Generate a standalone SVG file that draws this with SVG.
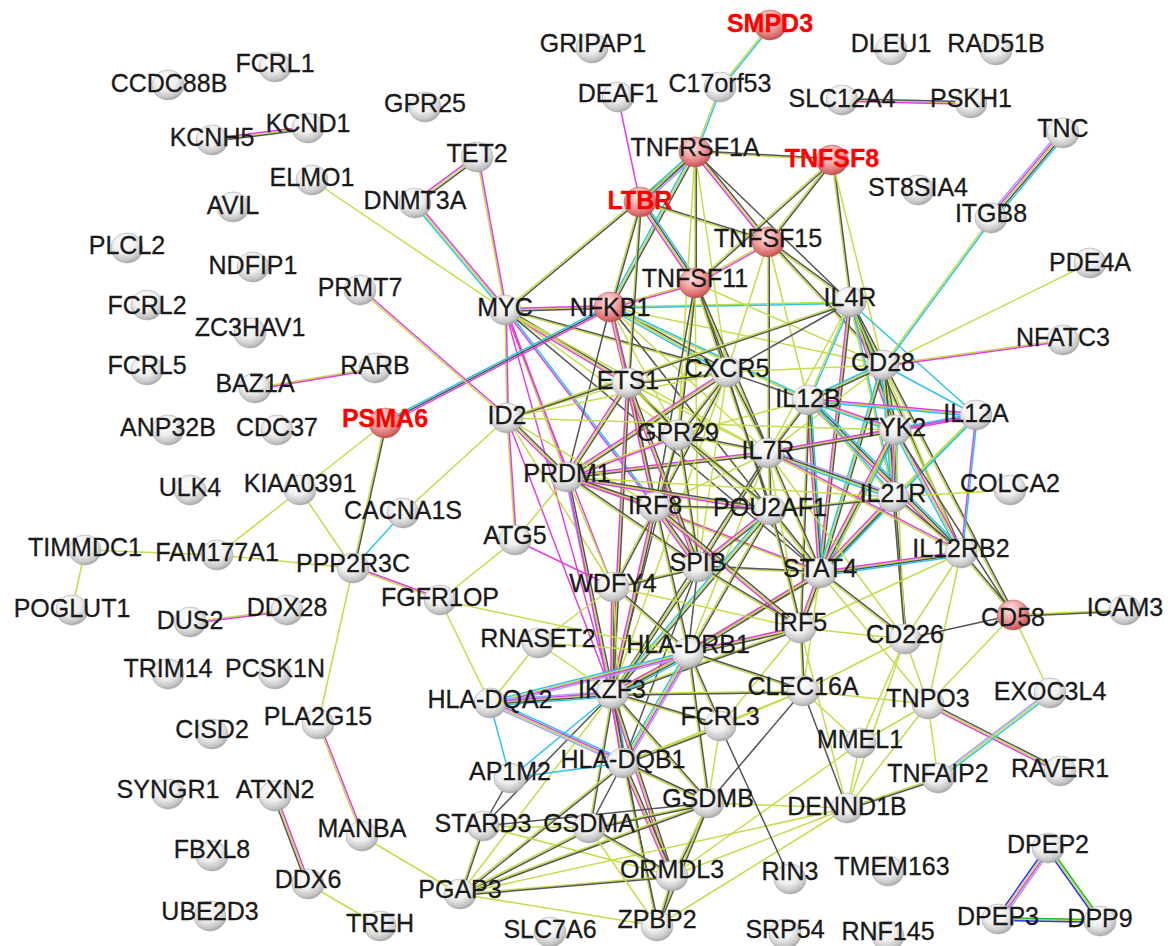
<svg xmlns="http://www.w3.org/2000/svg" xmlns:xlink="http://www.w3.org/1999/xlink" width="1168" height="946" viewBox="0 0 1168 946">
<style>
path{fill:none;stroke-width:1.5}
.y{stroke:#c5dc4a}.k{stroke:#555}.m{stroke:#e040e0}.c{stroke:#2ec4ea}.p{stroke:#a0a0ff}.b{stroke:#3030ff}.g{stroke:#22bb22}
.p1{transform:translate(1.3px,-1.3px)}.p2{transform:translate(-1.3px,1.3px)}.p3{transform:translate(2.6px,-2.6px)}.p4{transform:translate(-2.6px,2.6px)}
.q1{transform:translate(1.3px,1.3px)}.q2{transform:translate(-1.3px,-1.3px)}.q3{transform:translate(2.6px,2.6px)}.q4{transform:translate(-2.6px,-2.6px)}
text{font-family:"Liberation Sans",Arial,Helvetica,sans-serif;font-size:25px;text-anchor:middle;fill:#1a1a1a;stroke:#1a1a1a;stroke-width:0.3}
text.r{fill:#f00;stroke:#f00;font-weight:bold}
</style>
<defs>
<radialGradient id="gg" cx="0.42" cy="0.32" r="0.7">
<stop offset="0" stop-color="#ffffff"/><stop offset="0.5" stop-color="#eeeeee"/><stop offset="0.85" stop-color="#c4c4c4"/><stop offset="1" stop-color="#a0a0a0"/>
</radialGradient>
<radialGradient id="gr" cx="0.42" cy="0.32" r="0.7">
<stop offset="0" stop-color="#ffe4e4"/><stop offset="0.5" stop-color="#f0a0a0"/><stop offset="0.85" stop-color="#d86868"/><stop offset="1" stop-color="#b84848"/>
</radialGradient>
<ellipse id="sg" cx="0" cy="0" rx="16" ry="15" fill="url(#gg)" stroke="#a8a8a8" stroke-width="0.6"/>
<ellipse id="sr" cx="0" cy="0" rx="16" ry="15" fill="url(#gr)" stroke="#b06060" stroke-width="0.6"/>
</defs>
<rect width="1168" height="946" fill="#fff"/>
<g id="connectors">
<path class="y" d="M505 310L610 307"/><path class="k q1" d="M505 310L610 307"/><path class="m q2" d="M505 310L610 307"/>
<path class="y" d="M505 310L695 152"/><path class="k q1" d="M505 310L695 152"/>
<path class="y" d="M505 310L415 203"/><path class="m p1" d="M505 310L415 203"/><path class="c p2" d="M505 310L415 203"/>
<path class="y" d="M505 310L477 157"/><path class="m p1" d="M505 310L477 157"/>
<path class="y" d="M415 203L477 157"/><path class="k q1" d="M415 203L477 157"/><path class="m q2" d="M415 203L477 157"/>
<path class="y" d="M505 310L312 180"/>
<path class="y" d="M505 310L507 418"/><path class="m p1" d="M505 310L507 418"/>
<path class="y" d="M505 310L628 383"/><path class="k p1" d="M505 310L628 383"/><path class="m p2" d="M505 310L628 383"/>
<path class="y" d="M505 310L567 477"/><path class="m p1" d="M505 310L567 477"/>
<path class="m" d="M505 310L655 507"/><path class="c p1" d="M505 310L655 507"/>
<path class="y" d="M505 310L678 435"/>
<path class="y" d="M505 310L727 372"/><path class="k p1" d="M505 310L727 372"/>
<path class="m" d="M505 310L612 694"/>
<path class="m" d="M505 310L613 587"/>
<path class="k" d="M505 310L820 573"/>
<path class="y" d="M505 310L768 453"/>
<path class="y" d="M610 307L695 152"/><path class="k q1" d="M610 307L695 152"/><path class="c q2" d="M610 307L695 152"/>
<path class="y" d="M610 307L640 202"/><path class="k q1" d="M610 307L640 202"/>
<path class="y" d="M610 307L695 283"/><path class="m q1" d="M610 307L695 283"/>
<path class="k" d="M610 307L385 423"/><path class="m q1" d="M610 307L385 423"/><path class="c q2" d="M610 307L385 423"/>
<path class="y" d="M610 307L628 383"/><path class="k p1" d="M610 307L628 383"/><path class="m p2" d="M610 307L628 383"/>
<path class="y" d="M610 307L727 372"/><path class="k p1" d="M610 307L727 372"/><path class="c p2" d="M610 307L727 372"/>
<path class="y" d="M610 307L655 507"/><path class="m p1" d="M610 307L655 507"/>
<path class="k" d="M610 307L567 477"/>
<path class="y" d="M610 307L850 302"/><path class="c q1" d="M610 307L850 302"/>
<path class="y" d="M610 307L808 400"/><path class="c p1" d="M610 307L808 400"/>
<path class="y" d="M610 307L883 365"/>
<path class="y" d="M610 307L820 573"/>
<path class="y" d="M610 307L768 453"/>
<path class="k" d="M610 307L770 510"/>
<path class="y" d="M610 307L678 435"/>
<path class="y" d="M640 202L695 152"/><path class="k q1" d="M640 202L695 152"/><path class="c q2" d="M640 202L695 152"/><path class="p q3" d="M640 202L695 152"/>
<path class="y" d="M640 202L768 242"/><path class="k p1" d="M640 202L768 242"/>
<path class="y" d="M640 202L695 283"/><path class="k p1" d="M640 202L695 283"/><path class="m p2" d="M640 202L695 283"/><path class="c p3" d="M640 202L695 283"/>
<path class="m" d="M640 202L618 97"/>
<path class="y" d="M640 202L628 383"/><path class="k q1" d="M640 202L628 383"/>
<path class="y" d="M695 152L832 160"/><path class="k p1" d="M695 152L832 160"/>
<path class="y" d="M695 152L768 242"/><path class="k p1" d="M695 152L768 242"/><path class="m p2" d="M695 152L768 242"/>
<path class="y" d="M695 152L695 283"/><path class="k p1" d="M695 152L695 283"/>
<path class="k" d="M695 152L850 302"/>
<path class="y" d="M695 152L720 87"/><path class="c q1" d="M695 152L720 87"/>
<path class="y" d="M720 87L770 25"/><path class="c q1" d="M720 87L770 25"/>
<path class="y" d="M695 152L727 372"/>
<path class="y" d="M695 152L678 435"/>
<path class="y" d="M832 160L768 242"/><path class="k q1" d="M832 160L768 242"/>
<path class="y" d="M832 160L850 302"/><path class="k p1" d="M832 160L850 302"/>
<path class="y" d="M832 160L695 283"/><path class="k q1" d="M832 160L695 283"/>
<path class="y" d="M832 160L883 365"/>
<path class="y" d="M768 242L695 283"/><path class="m q1" d="M768 242L695 283"/>
<path class="y" d="M768 242L850 302"/><path class="k p1" d="M768 242L850 302"/>
<path class="y" d="M768 242L727 372"/>
<path class="y" d="M768 242L768 453"/><path class="k p1" d="M768 242L768 453"/>
<path class="y" d="M768 242L808 400"/>
<path class="y" d="M768 242L883 365"/><path class="k p1" d="M768 242L883 365"/>
<path class="y" d="M695 283L727 372"/><path class="k p1" d="M695 283L727 372"/>
<path class="y" d="M695 283L678 435"/><path class="k q1" d="M695 283L678 435"/>
<path class="y" d="M695 283L768 453"/><path class="k p1" d="M695 283L768 453"/>
<path class="y" d="M695 283L883 365"/>
<path class="k" d="M695 283L655 507"/>
<path class="y" d="M695 283L698 567"/>
<path class="y" d="M695 283L770 510"/><path class="k p1" d="M695 283L770 510"/>
<path class="y" d="M850 302L883 365"/><path class="k p1" d="M850 302L883 365"/><path class="c p2" d="M850 302L883 365"/>
<path class="y" d="M850 302L808 400"/><path class="c q1" d="M850 302L808 400"/>
<path class="y" d="M850 302L895 430"/><path class="k p1" d="M850 302L895 430"/><path class="m p2" d="M850 302L895 430"/><path class="c p3" d="M850 302L895 430"/>
<path class="y" d="M850 302L820 573"/><path class="k q1" d="M850 302L820 573"/><path class="m q2" d="M850 302L820 573"/>
<path class="y" d="M850 302L893 497"/><path class="c p1" d="M850 302L893 497"/>
<path class="y" d="M850 302L768 453"/>
<path class="k" d="M850 302L727 372"/>
<path class="y" d="M850 302L961 553"/><path class="k p1" d="M850 302L961 553"/>
<path class="c" d="M850 302L976 415"/>
<path class="y" d="M883 365L991 218"/><path class="c q1" d="M883 365L991 218"/>
<path class="y" d="M883 365L1090 263"/>
<path class="y" d="M883 365L1063 340"/><path class="m q1" d="M883 365L1063 340"/>
<path class="c" d="M883 365L976 415"/>
<path class="y" d="M883 365L895 430"/><path class="k p1" d="M883 365L895 430"/>
<path class="y" d="M883 365L893 497"/><path class="k p1" d="M883 365L893 497"/><path class="c p2" d="M883 365L893 497"/>
<path class="y" d="M883 365L820 573"/><path class="k q1" d="M883 365L820 573"/><path class="c q2" d="M883 365L820 573"/>
<path class="y" d="M883 365L768 453"/>
<path class="y" d="M883 365L808 400"/><path class="k q1" d="M883 365L808 400"/><path class="c q2" d="M883 365L808 400"/>
<path class="y" d="M883 365L905 639"/><path class="k p1" d="M883 365L905 639"/>
<path class="y" d="M883 365L1013 615"/><path class="k p1" d="M883 365L1013 615"/>
<path class="y" d="M883 365L961 553"/>
<path class="y" d="M883 365L727 372"/>
<path class="y" d="M976 415L808 400"/><path class="m p1" d="M976 415L808 400"/><path class="c p2" d="M976 415L808 400"/>
<path class="y" d="M976 415L895 430"/><path class="m q1" d="M976 415L895 430"/><path class="c q2" d="M976 415L895 430"/>
<path class="m" d="M976 415L961 553"/><path class="c q1" d="M976 415L961 553"/>
<path class="y" d="M976 415L893 497"/><path class="c q1" d="M976 415L893 497"/>
<path class="y" d="M976 415L820 573"/><path class="c q1" d="M976 415L820 573"/>
<path class="m" d="M976 415L768 453"/>
<path class="y" d="M808 400L895 430"/><path class="m p1" d="M808 400L895 430"/><path class="c p2" d="M808 400L895 430"/>
<path class="y" d="M808 400L961 553"/><path class="k p1" d="M808 400L961 553"/><path class="m p2" d="M808 400L961 553"/><path class="c p3" d="M808 400L961 553"/>
<path class="y" d="M808 400L820 573"/><path class="k p1" d="M808 400L820 573"/><path class="m p2" d="M808 400L820 573"/><path class="c p3" d="M808 400L820 573"/>
<path class="y" d="M808 400L768 453"/><path class="k q1" d="M808 400L768 453"/>
<path class="y" d="M808 400L893 497"/><path class="c p1" d="M808 400L893 497"/>
<path class="k" d="M808 400L727 372"/>
<path class="y" d="M808 400L678 435"/>
<path class="y" d="M808 400L800 628"/><path class="k q1" d="M808 400L800 628"/>
<path class="y" d="M895 430L820 573"/><path class="k q1" d="M895 430L820 573"/><path class="m q2" d="M895 430L820 573"/><path class="c q3" d="M895 430L820 573"/>
<path class="y" d="M895 430L893 497"/><path class="k q1" d="M895 430L893 497"/><path class="m q2" d="M895 430L893 497"/><path class="c q3" d="M895 430L893 497"/>
<path class="y" d="M895 430L961 553"/><path class="m p1" d="M895 430L961 553"/><path class="c p2" d="M895 430L961 553"/>
<path class="y" d="M895 430L768 453"/><path class="k q1" d="M895 430L768 453"/><path class="m q2" d="M895 430L768 453"/>
<path class="k" d="M895 430L1013 615"/>
<path class="y" d="M895 430L800 628"/>
<path class="y" d="M895 430L905 639"/>
<path class="y" d="M893 497L768 453"/><path class="k p1" d="M893 497L768 453"/><path class="c p2" d="M893 497L768 453"/><path class="p p3" d="M893 497L768 453"/>
<path class="y" d="M893 497L820 573"/><path class="k q1" d="M893 497L820 573"/><path class="m q2" d="M893 497L820 573"/><path class="c q3" d="M893 497L820 573"/>
<path class="y" d="M893 497L961 553"/><path class="k p1" d="M893 497L961 553"/>
<path class="y" d="M893 497L1010 490"/>
<path class="k" d="M893 497L905 639"/>
<path class="y" d="M893 497L770 510"/><path class="k q1" d="M893 497L770 510"/>
<path class="y" d="M961 553L820 573"/><path class="k q1" d="M961 553L820 573"/><path class="m q2" d="M961 553L820 573"/><path class="c q3" d="M961 553L820 573"/>
<path class="y" d="M961 553L1013 615"/><path class="k p1" d="M961 553L1013 615"/>
<path class="y" d="M961 553L768 453"/><path class="m p1" d="M961 553L768 453"/>
<path class="y" d="M961 553L905 639"/>
<path class="y" d="M961 553L928 704"/>
<path class="y" d="M961 553L800 628"/>
<path class="y" d="M820 573L768 453"/><path class="k p1" d="M820 573L768 453"/>
<path class="y" d="M820 573L800 628"/><path class="k q1" d="M820 573L800 628"/><path class="m q2" d="M820 573L800 628"/>
<path class="y" d="M820 573L698 567"/><path class="k p1" d="M820 573L698 567"/>
<path class="y" d="M820 573L770 510"/><path class="k p1" d="M820 573L770 510"/>
<path class="y" d="M820 573L655 507"/>
<path class="y" d="M820 573L612 694"/><path class="k q1" d="M820 573L612 694"/>
<path class="y" d="M820 573L688 653"/><path class="k q1" d="M820 573L688 653"/><path class="m q2" d="M820 573L688 653"/>
<path class="y" d="M820 573L905 639"/><path class="k p1" d="M820 573L905 639"/>
<path class="y" d="M820 573L803 691"/>
<path class="y" d="M820 573L928 704"/>
<path class="k" d="M820 573L628 383"/>
<path class="y" d="M820 573L567 477"/><path class="m p1" d="M820 573L567 477"/>
<path class="y" d="M768 453L727 372"/><path class="k p1" d="M768 453L727 372"/>
<path class="y" d="M768 453L678 435"/><path class="k p1" d="M768 453L678 435"/>
<path class="y" d="M768 453L770 510"/><path class="k p1" d="M768 453L770 510"/>
<path class="y" d="M768 453L655 507"/>
<path class="y" d="M768 453L698 567"/><path class="k q1" d="M768 453L698 567"/>
<path class="y" d="M768 453L628 383"/>
<path class="y" d="M768 453L567 477"/><path class="k q1" d="M768 453L567 477"/><path class="m q2" d="M768 453L567 477"/>
<path class="k" d="M768 453L612 694"/>
<path class="y" d="M768 453L688 653"/>
<path class="y" d="M768 453L800 628"/>
<path class="y" d="M768 453L905 639"/>
<path class="y" d="M727 372L628 383"/><path class="k q1" d="M727 372L628 383"/>
<path class="y" d="M727 372L678 435"/><path class="k q1" d="M727 372L678 435"/>
<path class="k" d="M727 372L770 510"/>
<path class="y" d="M727 372L655 507"/><path class="k q1" d="M727 372L655 507"/>
<path class="y" d="M727 372L698 567"/>
<path class="y" d="M727 372L567 477"/><path class="k q1" d="M727 372L567 477"/><path class="m q2" d="M727 372L567 477"/>
<path class="y" d="M727 372L612 694"/>
<path class="y" d="M628 383L678 435"/><path class="k p1" d="M628 383L678 435"/>
<path class="y" d="M628 383L655 507"/><path class="k p1" d="M628 383L655 507"/><path class="m p2" d="M628 383L655 507"/>
<path class="y" d="M628 383L567 477"/><path class="k q1" d="M628 383L567 477"/><path class="m q2" d="M628 383L567 477"/>
<path class="y" d="M628 383L770 510"/>
<path class="y" d="M628 383L698 567"/><path class="k p1" d="M628 383L698 567"/><path class="m p2" d="M628 383L698 567"/>
<path class="y" d="M628 383L612 694"/><path class="k q1" d="M628 383L612 694"/><path class="m q2" d="M628 383L612 694"/>
<path class="y" d="M628 383L507 418"/>
<path class="y" d="M678 435L655 507"/><path class="k q1" d="M678 435L655 507"/>
<path class="y" d="M678 435L770 510"/><path class="k p1" d="M678 435L770 510"/>
<path class="y" d="M678 435L698 567"/><path class="k p1" d="M678 435L698 567"/>
<path class="y" d="M678 435L567 477"/><path class="m q1" d="M678 435L567 477"/>
<path class="k" d="M678 435L612 694"/>
<path class="y" d="M507 418L567 477"/><path class="k p1" d="M507 418L567 477"/><path class="m p2" d="M507 418L567 477"/>
<path class="y" d="M507 418L655 507"/>
<path class="y" d="M507 418L515 540"/><path class="m p1" d="M507 418L515 540"/>
<path class="y" d="M507 418L403 513"/>
<path class="y" d="M507 418L360 290"/><path class="m p1" d="M507 418L360 290"/>
<path class="m" d="M507 418L612 694"/>
<path class="y" d="M507 418L613 587"/>
<path class="y" d="M507 418L850 302"/><path class="k q1" d="M507 418L850 302"/>
<path class="y" d="M507 418L727 372"/>
<path class="y" d="M507 418L895 430"/>
<path class="y" d="M567 477L655 507"/><path class="k p1" d="M567 477L655 507"/><path class="m p2" d="M567 477L655 507"/>
<path class="y" d="M567 477L770 510"/><path class="k p1" d="M567 477L770 510"/><path class="m p2" d="M567 477L770 510"/>
<path class="y" d="M567 477L698 567"/><path class="k p1" d="M567 477L698 567"/>
<path class="y" d="M567 477L612 694"/><path class="k p1" d="M567 477L612 694"/><path class="p p2" d="M567 477L612 694"/>
<path class="y" d="M567 477L613 587"/>
<path class="y" d="M567 477L515 540"/>
<path class="m" d="M567 477L623 763"/>
<path class="y" d="M567 477L893 497"/>
<path class="y" d="M655 507L770 510"/><path class="k p1" d="M655 507L770 510"/>
<path class="y" d="M655 507L698 567"/><path class="k p1" d="M655 507L698 567"/><path class="m p2" d="M655 507L698 567"/>
<path class="y" d="M655 507L613 587"/><path class="k q1" d="M655 507L613 587"/>
<path class="y" d="M655 507L612 694"/><path class="k q1" d="M655 507L612 694"/><path class="m q2" d="M655 507L612 694"/>
<path class="y" d="M655 507L688 653"/><path class="k p1" d="M655 507L688 653"/>
<path class="y" d="M655 507L800 628"/><path class="k p1" d="M655 507L800 628"/><path class="m p2" d="M655 507L800 628"/>
<path class="y" d="M770 510L698 567"/><path class="k q1" d="M770 510L698 567"/><path class="m q2" d="M770 510L698 567"/>
<path class="y" d="M770 510L612 694"/><path class="k q1" d="M770 510L612 694"/><path class="c q2" d="M770 510L612 694"/>
<path class="y" d="M770 510L688 653"/><path class="k q1" d="M770 510L688 653"/>
<path class="y" d="M770 510L800 628"/><path class="k p1" d="M770 510L800 628"/>
<path class="y" d="M698 567L613 587"/><path class="k q1" d="M698 567L613 587"/>
<path class="y" d="M698 567L612 694"/><path class="k q1" d="M698 567L612 694"/>
<path class="k" d="M698 567L688 653"/>
<path class="y" d="M698 567L800 628"/><path class="k p1" d="M698 567L800 628"/>
<path class="k" d="M698 567L623 763"/>
<path class="y" d="M613 587L612 694"/><path class="k q1" d="M613 587L612 694"/><path class="m q2" d="M613 587L612 694"/>
<path class="y" d="M613 587L688 653"/><path class="k p1" d="M613 587L688 653"/>
<path class="y" d="M613 587L800 628"/>
<path class="y" d="M613 587L623 763"/>
<path class="m" d="M613 587L515 540"/>
<path class="y" d="M613 587L538 643"/>
<path class="y" d="M515 540L440 600"/>
<path class="y" d="M800 628L688 653"/><path class="k q1" d="M800 628L688 653"/><path class="m q2" d="M800 628L688 653"/>
<path class="y" d="M800 628L612 694"/><path class="k q1" d="M800 628L612 694"/>
<path class="y" d="M800 628L803 691"/><path class="k p1" d="M800 628L803 691"/>
<path class="y" d="M800 628L720 726"/>
<path class="y" d="M800 628L905 639"/>
<path class="y" d="M800 628L847 808"/>
<path class="y" d="M688 653L612 694"/><path class="k q1" d="M688 653L612 694"/><path class="m q2" d="M688 653L612 694"/><path class="c q3" d="M688 653L612 694"/>
<path class="y" d="M688 653L490 703"/><path class="m q1" d="M688 653L490 703"/><path class="c q2" d="M688 653L490 703"/><path class="p q3" d="M688 653L490 703"/>
<path class="y" d="M688 653L623 763"/><path class="m q1" d="M688 653L623 763"/><path class="c q2" d="M688 653L623 763"/><path class="p q3" d="M688 653L623 763"/>
<path class="y" d="M688 653L803 691"/><path class="k p1" d="M688 653L803 691"/>
<path class="y" d="M688 653L720 726"/><path class="k p1" d="M688 653L720 726"/>
<path class="y" d="M688 653L538 643"/>
<path class="y" d="M688 653L708 803"/><path class="k p1" d="M688 653L708 803"/>
<path class="y" d="M688 653L440 600"/>
<path class="y" d="M612 694L490 703"/><path class="k q1" d="M612 694L490 703"/><path class="m q2" d="M612 694L490 703"/><path class="c q3" d="M612 694L490 703"/><path class="p q4" d="M612 694L490 703"/>
<path class="y" d="M612 694L623 763"/><path class="k p1" d="M612 694L623 763"/><path class="m p2" d="M612 694L623 763"/><path class="c p3" d="M612 694L623 763"/>
<path class="y" d="M612 694L720 726"/><path class="k p1" d="M612 694L720 726"/>
<path class="y" d="M612 694L803 691"/><path class="k q1" d="M612 694L803 691"/>
<path class="y" d="M612 694L708 803"/><path class="k p1" d="M612 694L708 803"/>
<path class="y" d="M612 694L672 876"/><path class="k p1" d="M612 694L672 876"/><path class="m p2" d="M612 694L672 876"/>
<path class="y" d="M612 694L589 828"/><path class="k q1" d="M612 694L589 828"/>
<path class="k" d="M612 694L657 926"/>
<path class="y" d="M612 694L460 894"/>
<path class="k" d="M612 694L483 826"/>
<path class="c" d="M612 694L510 778"/>
<path class="y" d="M612 694L538 643"/>
<path class="y" d="M490 703L623 763"/><path class="m p1" d="M490 703L623 763"/><path class="p p2" d="M490 703L623 763"/><path class="c p3" d="M490 703L623 763"/>
<path class="y" d="M490 703L538 643"/>
<path class="c" d="M490 703L510 778"/>
<path class="y" d="M490 703L440 600"/>
<path class="c" d="M510 778L623 763"/>
<path class="k" d="M510 778L483 826"/>
<path class="y" d="M623 763L720 726"/><path class="k q1" d="M623 763L720 726"/>
<path class="y" d="M623 763L708 803"/><path class="k p1" d="M623 763L708 803"/>
<path class="y" d="M623 763L672 876"/><path class="k p1" d="M623 763L672 876"/><path class="m p2" d="M623 763L672 876"/>
<path class="k" d="M623 763L589 828"/>
<path class="y" d="M623 763L657 926"/><path class="k p1" d="M623 763L657 926"/>
<path class="y" d="M623 763L460 894"/><path class="k q1" d="M623 763L460 894"/>
<path class="y" d="M623 763L803 691"/>
<path class="y" d="M483 826L460 894"/><path class="k q1" d="M483 826L460 894"/>
<path class="y" d="M483 826L589 828"/>
<path class="k" d="M483 826L708 803"/>
<path class="y" d="M483 826L672 876"/>
<path class="y" d="M460 894L589 828"/><path class="k q1" d="M460 894L589 828"/>
<path class="y" d="M460 894L708 803"/><path class="k q1" d="M460 894L708 803"/>
<path class="y" d="M460 894L672 876"/><path class="k q1" d="M460 894L672 876"/>
<path class="y" d="M460 894L657 926"/>
<path class="y" d="M460 894L362 836"/>
<path class="y" d="M460 894L847 808"/>
<path class="y" d="M589 828L708 803"/><path class="k q1" d="M589 828L708 803"/>
<path class="y" d="M589 828L672 876"/><path class="k p1" d="M589 828L672 876"/>
<path class="y" d="M589 828L657 926"/>
<path class="y" d="M708 803L672 876"/><path class="k q1" d="M708 803L672 876"/>
<path class="y" d="M708 803L657 926"/><path class="k q1" d="M708 803L657 926"/>
<path class="k" d="M708 803L803 691"/>
<path class="y" d="M708 803L847 808"/>
<path class="y" d="M708 803L720 726"/>
<path class="y" d="M672 876L657 926"/><path class="k q1" d="M672 876L657 926"/>
<path class="y" d="M672 876L847 808"/>
<path class="y" d="M672 876L860 743"/>
<path class="y" d="M657 926L847 808"/>
<path class="k" d="M720 726L790 879"/>
<path class="y" d="M720 726L803 691"/>
<path class="k" d="M803 691L847 808"/>
<path class="y" d="M803 691L860 743"/>
<path class="y" d="M803 691L928 704"/>
<path class="y" d="M803 691L905 639"/>
<path class="y" d="M847 808L938 778"/><path class="k q1" d="M847 808L938 778"/>
<path class="y" d="M847 808L860 743"/>
<path class="y" d="M847 808L928 704"/>
<path class="y" d="M847 808L905 639"/>
<path class="y" d="M928 704L1060 771"/><path class="k p1" d="M928 704L1060 771"/><path class="m p2" d="M928 704L1060 771"/>
<path class="y" d="M928 704L938 778"/>
<path class="y" d="M928 704L860 743"/>
<path class="y" d="M928 704L905 639"/>
<path class="y" d="M928 704L1013 615"/>
<path class="y" d="M1050 693L938 778"/><path class="c q1" d="M1050 693L938 778"/><path class="p q2" d="M1050 693L938 778"/>
<path class="y" d="M1050 693L1013 615"/>
<path class="y" d="M1013 615L1125 610"/><path class="k q1" d="M1013 615L1125 610"/>
<path class="k" d="M1013 615L905 639"/>
<path class="y" d="M905 639L860 743"/>
<path class="y" d="M1063 133L991 218"/><path class="k q1" d="M1063 133L991 218"/><path class="m q2" d="M1063 133L991 218"/><path class="c q3" d="M1063 133L991 218"/><path class="p q4" d="M1063 133L991 218"/>
<path class="y" d="M842 100L971 103"/><path class="k p1" d="M842 100L971 103"/><path class="m p2" d="M842 100L971 103"/>
<path class="y" d="M212 140L308 128"/><path class="k q1" d="M212 140L308 128"/><path class="m q2" d="M212 140L308 128"/>
<path class="y" d="M255 388L375 368"/><path class="m q1" d="M255 388L375 368"/>
<path class="y" d="M385 423L300 490"/>
<path class="y" d="M385 423L353 568"/><path class="k q1" d="M385 423L353 568"/>
<path class="y" d="M300 490L217 555"/>
<path class="y" d="M300 490L353 568"/>
<path class="y" d="M85 550L217 555"/>
<path class="y" d="M85 550L72 610"/>
<path class="y" d="M217 555L353 568"/>
<path class="c" d="M403 513L353 568"/>
<path class="y" d="M353 568L440 600"/><path class="m p1" d="M353 568L440 600"/>
<path class="y" d="M353 568L318 724"/>
<path class="y" d="M190 622L287 610"/><path class="m q1" d="M190 622L287 610"/>
<path class="y" d="M318 724L362 836"/><path class="m p1" d="M318 724L362 836"/>
<path class="y" d="M275 796L308 884"/><path class="m p1" d="M275 796L308 884"/><path class="k p2" d="M275 796L308 884"/>
<path class="y" d="M308 884L380 926"/>
<path class="y" d="M1048 848L998 919"/><path class="m q1" d="M1048 848L998 919"/><path class="b q2" d="M1048 848L998 919"/><path class="p q3" d="M1048 848L998 919"/>
<path class="y" d="M1048 848L1100 921"/><path class="g p1" d="M1048 848L1100 921"/><path class="b p2" d="M1048 848L1100 921"/>
<path class="y" d="M998 919L1100 921"/><path class="g p1" d="M998 919L1100 921"/><path class="b p2" d="M998 919L1100 921"/>
</g>
<g id="nodes">
<g id="n-SMPD3"><use href="#sr" x="770" y="25"/><text class="r" x="770" y="32">SMPD3</text></g>
<g id="n-GRIPAP1"><use href="#sg" x="592" y="48"/><text x="593" y="52">GRIPAP1</text></g>
<g id="n-DLEU1"><use href="#sg" x="891" y="50"/><text x="891" y="52">DLEU1</text></g>
<g id="n-RAD51B"><use href="#sg" x="996" y="50"/><text x="996" y="52">RAD51B</text></g>
<g id="n-FCRL1"><use href="#sg" x="275" y="67"/><text x="275" y="72">FCRL1</text></g>
<g id="n-CCDC88B"><use href="#sg" x="168" y="85"/><text x="169" y="92">CCDC88B</text></g>
<g id="n-C17orf53"><use href="#sg" x="720" y="87"/><text x="720" y="92">C17orf53</text></g>
<g id="n-DEAF1"><use href="#sg" x="618" y="97"/><text x="618" y="102">DEAF1</text></g>
<g id="n-SLC12A4"><use href="#sg" x="842" y="100"/><text x="842" y="107">SLC12A4</text></g>
<g id="n-PSKH1"><use href="#sg" x="971" y="103"/><text x="971" y="107">PSKH1</text></g>
<g id="n-GPR25"><use href="#sg" x="425" y="107"/><text x="425" y="112">GPR25</text></g>
<g id="n-KCNH5"><use href="#sg" x="212" y="140"/><text x="212" y="146">KCNH5</text></g>
<g id="n-KCND1"><use href="#sg" x="308" y="128"/><text x="308" y="132">KCND1</text></g>
<g id="n-TET2"><use href="#sg" x="477" y="157"/><text x="477" y="162">TET2</text></g>
<g id="n-TNFRSF1A"><use href="#sr" x="695" y="152"/><text x="695" y="156">TNFRSF1A</text></g>
<g id="n-TNFSF8"><use href="#sr" x="832" y="160"/><text class="r" x="832" y="167">TNFSF8</text></g>
<g id="n-TNC"><use href="#sg" x="1063" y="133"/><text x="1063" y="137">TNC</text></g>
<g id="n-ELMO1"><use href="#sg" x="312" y="180"/><text x="312" y="186">ELMO1</text></g>
<g id="n-DNMT3A"><use href="#sg" x="415" y="203"/><text x="415" y="209">DNMT3A</text></g>
<g id="n-LTBR"><use href="#sr" x="640" y="202"/><text class="r" x="640" y="209">LTBR</text></g>
<g id="n-ST8SIA4"><use href="#sg" x="918" y="190"/><text x="918" y="196">ST8SIA4</text></g>
<g id="n-AVIL"><use href="#sg" x="233" y="207"/><text x="233" y="214">AVIL</text></g>
<g id="n-ITGB8"><use href="#sg" x="991" y="218"/><text x="991" y="222">ITGB8</text></g>
<g id="n-TNFSF15"><use href="#sr" x="768" y="242"/><text x="768" y="247">TNFSF15</text></g>
<g id="n-PLCL2"><use href="#sg" x="127" y="248"/><text x="127" y="254">PLCL2</text></g>
<g id="n-NDFIP1"><use href="#sg" x="253" y="267"/><text x="253" y="274">NDFIP1</text></g>
<g id="n-PDE4A"><use href="#sg" x="1090" y="263"/><text x="1090" y="271">PDE4A</text></g>
<g id="n-TNFSF11"><use href="#sr" x="695" y="283"/><text x="695" y="287">TNFSF11</text></g>
<g id="n-PRMT7"><use href="#sg" x="360" y="290"/><text x="360" y="296">PRMT7</text></g>
<g id="n-MYC"><use href="#sg" x="505" y="310"/><text x="505" y="316">MYC</text></g>
<g id="n-NFKB1"><use href="#sr" x="610" y="307"/><text x="610" y="316">NFKB1</text></g>
<g id="n-IL4R"><use href="#sg" x="850" y="302"/><text x="850" y="306">IL4R</text></g>
<g id="n-FCRL2"><use href="#sg" x="147" y="305"/><text x="147" y="314">FCRL2</text></g>
<g id="n-ZC3HAV1"><use href="#sg" x="250" y="333"/><text x="250" y="336">ZC3HAV1</text></g>
<g id="n-NFATC3"><use href="#sg" x="1063" y="340"/><text x="1063" y="346">NFATC3</text></g>
<g id="n-CD28"><use href="#sg" x="883" y="365"/><text x="883" y="371">CD28</text></g>
<g id="n-FCRL5"><use href="#sg" x="147" y="370"/><text x="147" y="374">FCRL5</text></g>
<g id="n-BAZ1A"><use href="#sg" x="255" y="388"/><text x="255" y="392">BAZ1A</text></g>
<g id="n-RARB"><use href="#sg" x="375" y="368"/><text x="375" y="374">RARB</text></g>
<g id="n-ETS1"><use href="#sg" x="628" y="383"/><text x="628" y="389">ETS1</text></g>
<g id="n-CXCR5"><use href="#sg" x="727" y="372"/><text x="727" y="377">CXCR5</text></g>
<g id="n-IL12B"><use href="#sg" x="808" y="400"/><text x="808" y="407">IL12B</text></g>
<g id="n-IL12A"><use href="#sg" x="976" y="415"/><text x="976" y="422">IL12A</text></g>
<g id="n-ANP32B"><use href="#sg" x="168" y="430"/><text x="168" y="436">ANP32B</text></g>
<g id="n-CDC37"><use href="#sg" x="277" y="430"/><text x="277" y="436">CDC37</text></g>
<g id="n-PSMA6"><use href="#sr" x="385" y="423"/><text class="r" x="385" y="427">PSMA6</text></g>
<g id="n-ID2"><use href="#sg" x="507" y="418"/><text x="507" y="424">ID2</text></g>
<g id="n-GPR29"><use href="#sg" x="678" y="435"/><text x="678" y="441">GPR29</text></g>
<g id="n-IL7R"><use href="#sg" x="768" y="453"/><text x="768" y="459">IL7R</text></g>
<g id="n-TYK2"><use href="#sg" x="895" y="430"/><text x="895" y="436">TYK2</text></g>
<g id="n-PRDM1"><use href="#sg" x="567" y="477"/><text x="567" y="482">PRDM1</text></g>
<g id="n-ULK4"><use href="#sg" x="190" y="490"/><text x="190" y="496">ULK4</text></g>
<g id="n-KIAA0391"><use href="#sg" x="300" y="490"/><text x="300" y="492">KIAA0391</text></g>
<g id="n-COLCA2"><use href="#sg" x="1010" y="490"/><text x="1010" y="492">COLCA2</text></g>
<g id="n-IRF8"><use href="#sg" x="655" y="507"/><text x="655" y="514">IRF8</text></g>
<g id="n-POU2AF1"><use href="#sg" x="770" y="510"/><text x="770" y="516">POU2AF1</text></g>
<g id="n-IL21R"><use href="#sg" x="893" y="497"/><text x="893" y="502">IL21R</text></g>
<g id="n-CACNA1S"><use href="#sg" x="403" y="513"/><text x="403" y="519">CACNA1S</text></g>
<g id="n-TIMMDC1"><use href="#sg" x="85" y="550"/><text x="85" y="556">TIMMDC1</text></g>
<g id="n-FAM177A1"><use href="#sg" x="217" y="555"/><text x="217" y="561">FAM177A1</text></g>
<g id="n-PPP2R3C"><use href="#sg" x="353" y="568"/><text x="353" y="572">PPP2R3C</text></g>
<g id="n-ATG5"><use href="#sg" x="515" y="540"/><text x="515" y="544">ATG5</text></g>
<g id="n-SPIB"><use href="#sg" x="698" y="567"/><text x="698" y="571">SPIB</text></g>
<g id="n-STAT4"><use href="#sg" x="820" y="573"/><text x="820" y="577">STAT4</text></g>
<g id="n-IL12RB2"><use href="#sg" x="961" y="553"/><text x="961" y="557">IL12RB2</text></g>
<g id="n-WDFY4"><use href="#sg" x="613" y="587"/><text x="613" y="592">WDFY4</text></g>
<g id="n-POGLUT1"><use href="#sg" x="72" y="610"/><text x="72" y="617">POGLUT1</text></g>
<g id="n-DUS2"><use href="#sg" x="190" y="622"/><text x="190" y="629">DUS2</text></g>
<g id="n-DDX28"><use href="#sg" x="287" y="610"/><text x="287" y="616">DDX28</text></g>
<g id="n-FGFR1OP"><use href="#sg" x="440" y="600"/><text x="440" y="606">FGFR1OP</text></g>
<g id="n-CD58"><use href="#sr" x="1013" y="615"/><text x="1013" y="626">CD58</text></g>
<g id="n-ICAM3"><use href="#sg" x="1125" y="610"/><text x="1125" y="616">ICAM3</text></g>
<g id="n-IRF5"><use href="#sg" x="800" y="628"/><text x="800" y="631">IRF5</text></g>
<g id="n-RNASET2"><use href="#sg" x="538" y="643"/><text x="538" y="647">RNASET2</text></g>
<g id="n-HLA-DRB1"><use href="#sg" x="688" y="653"/><text x="688" y="653">HLA-DRB1</text></g>
<g id="n-CD226"><use href="#sg" x="905" y="639"/><text x="905" y="643">CD226</text></g>
<g id="n-TRIM14"><use href="#sg" x="168" y="674"/><text x="168" y="677">TRIM14</text></g>
<g id="n-PCSK1N"><use href="#sg" x="275" y="674"/><text x="275" y="677">PCSK1N</text></g>
<g id="n-PLA2G15"><use href="#sg" x="318" y="724"/><text x="318" y="725">PLA2G15</text></g>
<g id="n-HLA-DQA2"><use href="#sg" x="490" y="703"/><text x="490" y="708">HLA-DQA2</text></g>
<g id="n-IKZF3"><use href="#sg" x="612" y="694"/><text x="612" y="698">IKZF3</text></g>
<g id="n-CLEC16A"><use href="#sg" x="803" y="691"/><text x="803" y="695">CLEC16A</text></g>
<g id="n-TNPO3"><use href="#sg" x="928" y="704"/><text x="928" y="707">TNPO3</text></g>
<g id="n-EXOC3L4"><use href="#sg" x="1050" y="693"/><text x="1050" y="700">EXOC3L4</text></g>
<g id="n-CISD2"><use href="#sg" x="212" y="734"/><text x="212" y="738">CISD2</text></g>
<g id="n-FCRL3"><use href="#sg" x="720" y="726"/><text x="720" y="725">FCRL3</text></g>
<g id="n-MMEL1"><use href="#sg" x="860" y="743"/><text x="860" y="748">MMEL1</text></g>
<g id="n-AP1M2"><use href="#sg" x="510" y="778"/><text x="510" y="780">AP1M2</text></g>
<g id="n-HLA-DQB1"><use href="#sg" x="623" y="763"/><text x="623" y="768">HLA-DQB1</text></g>
<g id="n-TNFAIP2"><use href="#sg" x="938" y="778"/><text x="938" y="782">TNFAIP2</text></g>
<g id="n-RAVER1"><use href="#sg" x="1060" y="771"/><text x="1060" y="777">RAVER1</text></g>
<g id="n-SYNGR1"><use href="#sg" x="168" y="794"/><text x="168" y="798">SYNGR1</text></g>
<g id="n-ATXN2"><use href="#sg" x="275" y="796"/><text x="275" y="798">ATXN2</text></g>
<g id="n-MANBA"><use href="#sg" x="362" y="836"/><text x="362" y="837">MANBA</text></g>
<g id="n-STARD3"><use href="#sg" x="483" y="826"/><text x="483" y="832">STARD3</text></g>
<g id="n-GSDMA"><use href="#sg" x="589" y="828"/><text x="589" y="832">GSDMA</text></g>
<g id="n-GSDMB"><use href="#sg" x="708" y="803"/><text x="708" y="807">GSDMB</text></g>
<g id="n-DENND1B"><use href="#sg" x="847" y="808"/><text x="847" y="815">DENND1B</text></g>
<g id="n-FBXL8"><use href="#sg" x="212" y="856"/><text x="212" y="858">FBXL8</text></g>
<g id="n-DDX6"><use href="#sg" x="308" y="884"/><text x="308" y="888">DDX6</text></g>
<g id="n-PGAP3"><use href="#sg" x="460" y="894"/><text x="460" y="898">PGAP3</text></g>
<g id="n-ORMDL3"><use href="#sg" x="672" y="876"/><text x="672" y="878">ORMDL3</text></g>
<g id="n-RIN3"><use href="#sg" x="790" y="879"/><text x="790" y="880">RIN3</text></g>
<g id="n-TMEM163"><use href="#sg" x="888" y="871"/><text x="892" y="875">TMEM163</text></g>
<g id="n-DPEP2"><use href="#sg" x="1048" y="848"/><text x="1048" y="853">DPEP2</text></g>
<g id="n-UBE2D3"><use href="#sg" x="210" y="916"/><text x="210" y="920">UBE2D3</text></g>
<g id="n-TREH"><use href="#sg" x="380" y="926"/><text x="380" y="932">TREH</text></g>
<g id="n-SLC7A6"><use href="#sg" x="550" y="932"/><text x="550" y="938">SLC7A6</text></g>
<g id="n-ZPBP2"><use href="#sg" x="657" y="926"/><text x="657" y="928">ZPBP2</text></g>
<g id="n-SRP54"><use href="#sg" x="785" y="934"/><text x="785" y="938">SRP54</text></g>
<g id="n-RNF145"><use href="#sg" x="888" y="936"/><text x="888" y="940">RNF145</text></g>
<g id="n-DPEP3"><use href="#sg" x="998" y="919"/><text x="998" y="925">DPEP3</text></g>
<g id="n-DPP9"><use href="#sg" x="1100" y="921"/><text x="1100" y="927">DPP9</text></g>
</g>
</svg>
